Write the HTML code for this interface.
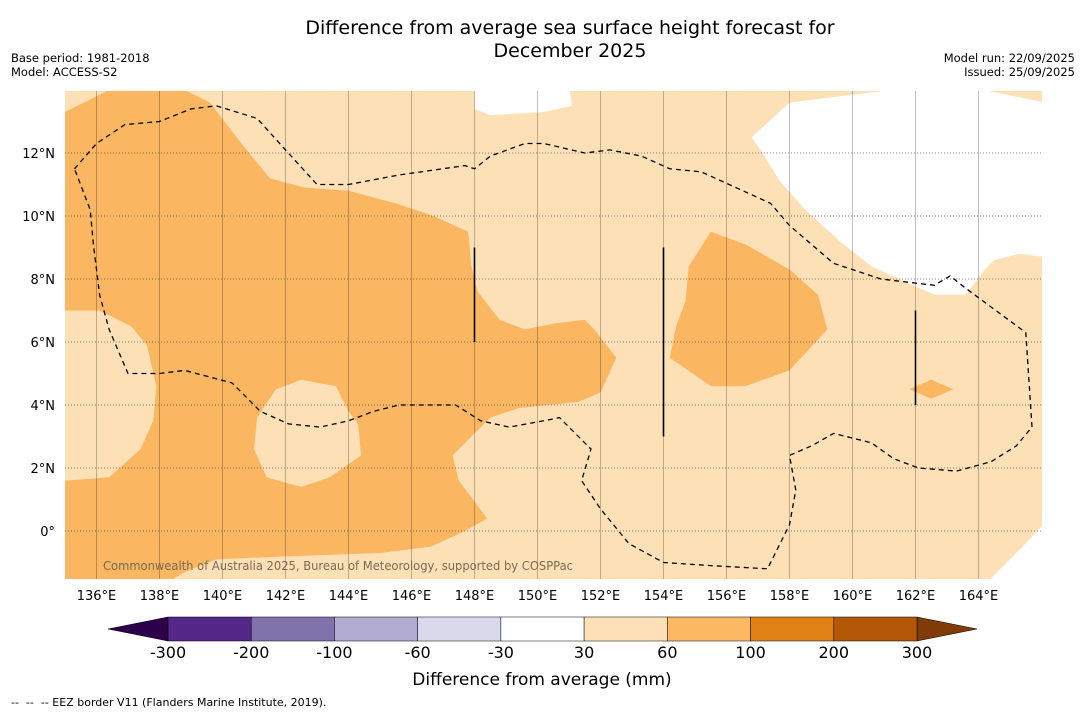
<!DOCTYPE html>
<html><head><meta charset="utf-8">
<style>
body{margin:0;background:#fff;font-family:"Liberation Sans","DejaVu Sans",sans-serif;}
svg{display:block}
</style></head>
<body>
<svg id="c" width="1085" height="713" xmlns="http://www.w3.org/2000/svg" font-family="DejaVu Sans, Liberation Sans, sans-serif">
<text x="570" y="34" text-anchor="middle" font-size="19">Difference from average sea surface height forecast for</text>
<text x="570" y="57" text-anchor="middle" font-size="19">December 2025</text>
<text x="11" y="62" font-size="11.5">Base period: 1981-2018</text>
<text x="11" y="76" font-size="11.5">Model: ACCESS-S2</text>
<text x="1075" y="62" font-size="11.5" text-anchor="end">Model run: 22/09/2025</text>
<text x="1075" y="76" font-size="11.5" text-anchor="end">Issued: 25/09/2025</text>
<defs><clipPath id="mapclip"><rect x="65" y="91" width="977" height="488"/></clipPath></defs>
<g id="map" clip-path="url(#mapclip)"></g>
<g id="axes"></g>
<g id="cbar"></g>
<text x="542" y="685" text-anchor="middle" font-size="17">Difference from average (mm)</text>
<text x="11" y="706" font-size="11">-- &#160;-- &#160;-- EEZ border V11 (Flanders Marine Institute, 2019).</text>
</svg>
<script>
const lonTicks=[136,138,140,142,144,146,148,150,152,154,156,158,160,162,164];
const latTicks=[0,2,4,6,8,10,12];
const mainOrange=[[135,13.3],[136.4,14],[138.8,14],[139.6,13.6],[140.6,12.3],[141.5,11.2],[142.6,10.9],[144,10.8],[145.5,10.4],[146.7,10],[147.8,9.5],[147.9,8.4],[148.1,7.6],[148.8,6.7],[149.6,6.4],[150.6,6.6],[151.5,6.7],[151.8,6.4],[152.5,5.5],[152,4.4],[151.3,4.1],[149.4,3.9],[148.5,3.6],[148,3.1],[147.3,2.4],[147.5,1.6],[148.4,0.4],[147.7,0],[146.6,-0.5],[145,-0.7],[142.1,-0.8],[139.8,-0.9],[138.8,-1.3],[138.3,-1.6],[135,-1.6],[135,1.6],[136.4,1.7],[137.4,2.6],[137.8,3.5],[137.9,4.6],[137.6,5.9],[137.1,6.5],[136.1,7],[135,7]];
const holeLight=[[141.1,3.6],[141.7,4.5],[142.5,4.8],[143.6,4.6],[144,3.8],[144.3,3.4],[144.4,2.4],[143.4,1.7],[142.5,1.4],[141.4,1.7],[141,2.6]];
const eastOrange=[[155.5,9.5],[156.6,9.1],[158,8.3],[158.9,7.5],[159.2,6.4],[158,5.1],[156.6,4.6],[155.5,4.6],[154.2,5.5],[154.4,6.5],[154.7,7.3],[154.8,8.4]];
const smallOrange=[[161.8,4.5],[162.5,4.8],[163.2,4.5],[162.5,4.2]];
const whiteTop=[[148,14.1],[151,14.1],[151.1,13.5],[150.2,13.3],[148.5,13.2],[148,13.4]];
const whiteEast=[[156.8,12.5],[158,13.6],[162,14.1],[163.7,14.1],[166.1,13.6],[166.1,8.7],[165.3,8.8],[164.5,8.6],[164.2,8.3],[163.6,7.5],[162.6,7.5],[161.7,7.9],[160.6,8.4],[159.6,9.2],[158.5,10.2],[157.7,11.1],[157.2,11.9]];
const whiteSE=[[164.3,-1.6],[165.3,-0.6],[166.1,0.25],[166.1,-1.6]];
const eez=[[135.3,11.5],[136,12.3],[136.9,12.9],[138,13],[139,13.4],[139.8,13.5],[141.1,13.1],[142,12.1],[143,11],[144,11],[145.6,11.3],[147.7,11.6],[148,11.5],[148.5,11.9],[149.6,12.3],[150.2,12.3],[151.5,12],[152.3,12.1],[153.3,11.9],[154.2,11.5],[155.2,11.4],[156.3,10.9],[157.4,10.4],[158,9.7],[159.4,8.5],[160.9,8],[162.6,7.8],[163.1,8.1],[163.6,7.7],[165.5,6.3],[165.7,3.3],[165.2,2.7],[164.4,2.2],[163.3,1.9],[162.1,2],[161.3,2.3],[160.6,2.8],[159.4,3.1],[158.7,2.7],[158,2.4],[158.2,1.3],[158,0.2],[157.3,-1.2],[155.5,-1.1],[154,-1],[152.9,-0.4],[152,0.7],[151.4,1.6],[151.7,2.6],[151.2,3.1],[150.7,3.6],[150.2,3.5],[149.1,3.3],[148.2,3.5],[147.4,4],[146.3,4],[145.6,4],[144.8,3.8],[144,3.5],[143.1,3.3],[142.1,3.4],[141.2,3.8],[140.3,4.7],[138.8,5.1],[138,5],[137,5],[136.4,6.4],[136.1,7.5],[135.9,9.1],[135.8,10.2],[135.3,11.5]];
const verticalBars=[[148,9,6],[154,9,3],[162,7,4]];
const cbLevels=["-300","-200","-100","-60","-30","30","60","100","200","300"];
const cbColors=["#542788","#8073ac","#b2abd2","#d8daeb","#ffffff","#fee0b6","#fdb863","#e08214","#b35806"];
const NS="http://www.w3.org/2000/svg";
const X=lon=>65+(lon-135)*31.5;
const Y=lat=>531-lat*31.5;
function mk(tag,at,parent){const e=document.createElementNS(NS,tag);for(const k in at)e.setAttribute(k,at[k]);parent.appendChild(e);return e;}
const map=document.getElementById('map');
const pts=a=>a.map(p=>X(p[0]).toFixed(1)+','+Y(p[1]).toFixed(1)).join(' ');
let bg=mk('rect',{x:65,y:91,width:977,height:488,fill:'#fde0b6'},map);


function poly(a,fill,name){const e=mk('polygon',{points:pts(a),fill:fill},map);

}
poly(mainOrange,'#fab661','orange-region-west');
poly(holeLight,'#fde0b6','light-region-hole');
poly(eastOrange,'#fab661','orange-region-east');
poly(smallOrange,'#fab661','orange-region-small');
poly(whiteTop,'#ffffff','white-region-north');
poly(whiteEast,'#ffffff','white-region-east');
poly(whiteSE,'#ffffff','white-region-southeast');
for(const t of lonTicks){const l=mk('line',{x1:X(t),x2:X(t),y1:91,y2:579,stroke:'#000','stroke-opacity':0.25,'stroke-width':1},map);

}
for(const t of latTicks){const l=mk('line',{x1:65,x2:1042,y1:Y(t),y2:Y(t),stroke:'#555','stroke-width':0.8,'stroke-dasharray':'1,2'},map);

}
const ez=mk('polyline',{points:pts(eez),fill:'none',stroke:'#000','stroke-width':1.3,'stroke-dasharray':'5,4'},map);


for(const v of verticalBars){const l=mk('line',{x1:X(v[0]),x2:X(v[0]),y1:Y(v[1]),y2:Y(v[2]),stroke:'#000','stroke-width':1.6},map);

}
const cr=mk('text',{x:103,y:570,'font-size':12,fill:'#7a6a55',textLength:470,lengthAdjust:'spacingAndGlyphs'},map);
cr.textContent='Commonwealth of Australia 2025, Bureau of Meteorology, supported by COSPPac';


const ax=document.getElementById('axes');
for(const t of lonTicks){const e=mk('text',{x:X(t),y:600,'font-size':13,'text-anchor':'middle'},ax);e.textContent=t+'°E';

}
for(const t of latTicks){const e=mk('text',{x:55,y:Y(t)+5,'font-size':13,'text-anchor':'end'},ax);e.textContent=t===0?'0°':t+'°N';

}
const cb=document.getElementById('cbar');
const x0=168,x1=917,w=(x1-x0)/cbColors.length,y0=617,h=24;
const tl=mk('polygon',{points:`108,${y0+h/2} ${x0},${y0} ${x0},${y0+h}`,fill:'#2d004b',stroke:'#000','stroke-width':0.5},cb);


const tr=mk('polygon',{points:`977,${y0+h/2} ${x1},${y0} ${x1},${y0+h}`,fill:'#7f3b08',stroke:'#000','stroke-width':0.5},cb);


cbColors.forEach((c,i)=>{const r=mk('rect',{x:x0+i*w,y:y0,width:w,height:h,fill:c,stroke:'#000','stroke-width':0.5},cb);

});
cbLevels.forEach((s,i)=>{const e=mk('text',{x:x0+i*w,y:658,'font-size':16,'text-anchor':'middle'},cb);e.textContent=s;

});
</script>
</body></html>
